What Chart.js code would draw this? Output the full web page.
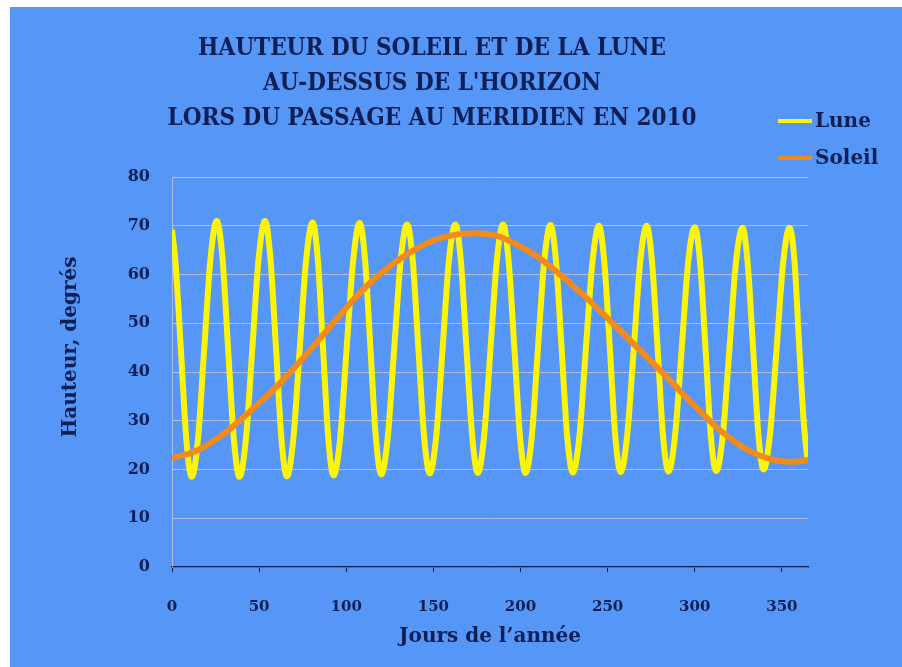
<!DOCTYPE html>
<html lang="fr">
<head>
<meta charset="UTF-8">
<title>Hauteur du Soleil et de la Lune</title>
<script src="https://cdn.jsdelivr.net/npm/chart.js@4.4.0/dist/chart.umd.min.js"></script>
<style>
    html, body { margin: 0; padding: 0; background: #fff; }
    #chart { display: block; }
</style>
</head>
<body>
<canvas id="chart" width="902" height="667"></canvas>
<script>
// Lune : jours / hauteur
const moonDays = [
    0, 1.9, 5.1, 8.2, 11.3,
    14.9, 18.5, 22.1, 25.7,
    29, 32.2, 35.5, 38.7,
    42.4, 46.1, 49.7, 53.4,
    56.5, 59.7, 62.8, 65.9,
    69.6, 73.3, 77, 80.7,
    83.7, 86.7, 89.7, 92.7,
    96.5, 100.2, 104, 107.7,
    110.8, 113.9, 117, 120.1,
    123.8, 127.5, 131.2, 134.9,
    138.2, 141.4, 144.7, 147.9,
    151.6, 155.3, 158.9, 162.6,
    165.8, 169, 172.3, 175.5,
    179.1, 182.8, 186.4, 190,
    193.2, 196.5, 199.7, 202.9,
    206.5, 210, 213.6, 217.2,
    220.4, 223.6, 226.8, 230,
    233.8, 237.5, 241.3, 245,
    248.1, 251.3, 254.4, 257.5,
    261.2, 265, 268.7, 272.4,
    275.5, 278.7, 281.8, 284.9,
    288.7, 292.5, 296.2, 300,
    303.1, 306.2, 309.2, 312.3,
    316.1, 319.9, 323.6, 327.4,
    330.4, 333.5, 336.5, 339.5,
    343.2, 347, 350.7, 354.4,
    357.2, 360, 362.5, 364.5
];
const moonAlt = [
    69.2, 63, 44.7, 26.3, 18.5,
    26.2, 44.8, 63.3, 71,
    63.3, 44.8, 26.2, 18.5,
    26.2, 44.8, 63.3, 71,
    63.3, 44.8, 26.3, 18.6,
    26.2, 44.7, 63.1, 70.7,
    63.1, 44.8, 26.4, 18.8,
    26.4, 44.7, 63, 70.6,
    63, 44.8, 26.6, 19,
    26.5, 44.7, 62.8, 70.3,
    62.8, 44.8, 26.7, 19.2,
    26.7, 44.8, 62.8, 70.3,
    62.8, 44.8, 26.8, 19.3,
    26.8, 44.8, 62.8, 70.3,
    62.8, 44.8, 26.8, 19.3,
    26.8, 44.8, 62.7, 70.2,
    62.7, 44.8, 26.8, 19.4,
    26.8, 44.7, 62.6, 70,
    62.6, 44.8, 26.9, 19.5,
    26.9, 44.8, 62.6, 70,
    62.6, 44.8, 27, 19.6,
    27, 44.7, 62.4, 69.7,
    62.4, 44.7, 27, 19.7,
    27, 44.7, 62.3, 69.6,
    62.3, 44.8, 27.3, 20,
    27.3, 44.8, 62.3, 69.6,
    63, 45, 30, 22.5
];
// Soleil : jours / hauteur
const sunDays = [0, 15, 30, 45, 60, 75, 90, 105, 120, 135, 150, 165, 175, 185, 195, 210, 225, 240, 255, 270, 285, 300, 315, 330, 345, 355, 365];
const sunAlt = [22.3, 24, 27.4, 32, 37, 42.8, 49, 55.2, 60.3, 64.2, 67, 68.3, 68.5, 68.1, 66.7, 63.6, 59.3, 54.5, 49.3, 44, 38.6, 33, 27.9, 24.1, 22, 21.6, 21.9];

const xTicks = [0, 50, 100, 150, 200, 250, 300, 350];
const yTicks = [0, 10, 20, 30, 40, 50, 60, 70, 80];
const titleLines = ['HAUTEUR DU SOLEIL ET DE LA LUNE', "AU-DESSUS DE L'HORIZON", 'LORS DU PASSAGE AU MERIDIEN EN 2010'];
const xTitle = 'Jours de l’année';
const yTitle = 'Hauteur, degrés';

const navy = '#0e1f55';
const gridColor = 'rgba(240,215,200,0.6)';
const serif = "'DejaVu Serif', 'Liberation Serif', serif";

// fond bleu
const background = {
    id: 'background',
    beforeDraw(chart) {
        const { ctx, width, height } = chart;
        ctx.save();
        ctx.fillStyle = '#fff';
        ctx.fillRect(0, 0, width, height);
        ctx.fillStyle = '#5596f6';
        ctx.fillRect(10, 7, width - 10, height - 7);
        ctx.restore();
    }
};

// légende à droite + titre vertical
const extras = {
    id: 'extras',
    afterDraw(chart) {
        const ctx = chart.ctx;
        ctx.save();
        ctx.fillStyle = navy;
        ctx.font = 'bold 20px ' + serif;
        ctx.textBaseline = 'middle';
        chart.data.datasets.forEach((ds, i) => {
            const y = 121 + i * 37;
            ctx.strokeStyle = ds.borderColor;
            ctx.lineWidth = 4;
            ctx.beginPath();
            ctx.moveTo(778, y);
            ctx.lineTo(812, y);
            ctx.stroke();
            ctx.textAlign = 'left';
            ctx.fillText(ds.label, 815, y + 1);
        });
        ctx.translate(71, 347);
        ctx.rotate(-Math.PI / 2);
        ctx.textAlign = 'center';
        ctx.fillText(yTitle, 0, 0);
        ctx.restore();
    }
};

new Chart(document.getElementById('chart'), {
    type: 'line',
    data: {
        datasets: [{
            label: 'Lune',
            data: moonDays.map((d, i) => ({ x: d, y: moonAlt[i] })),
            borderColor: '#fcf40a',
            borderWidth: 6,
            pointRadius: 0,
            cubicInterpolationMode: 'monotone',
            order: 1
        }, {
            label: 'Soleil',
            data: sunDays.map((d, i) => ({ x: d, y: sunAlt[i] })),
            borderColor: '#f28a1c',
            borderWidth: 6,
            pointRadius: 0,
            cubicInterpolationMode: 'monotone',
            order: 0
        }]
    },
    options: {
        responsive: false,
        animation: false,
        devicePixelRatio: 1,
        layout: { padding: { left: 56, right: 94, top: 0, bottom: 0 } },
        plugins: {
            legend: { display: false },
            tooltip: { enabled: false },
            title: {
                display: true,
                text: titleLines,
                color: navy,
                // titre étroit et gras
                font: { family: serif, size: 24, weight: 'bold condensed', lineHeight: 1.46 },
                padding: { top: 31, bottom: 41 }
            }
        },
        scales: {
            x: {
                type: 'linear',
                min: 0,
                max: 365,
                afterBuildTicks(scale) { scale.ticks = xTicks.map(v => ({ value: v })); },
                afterFit(scale) { scale.height = 100; },
                grid: { display: true, drawOnChartArea: false, drawTicks: true, tickLength: 5, color: navy, lineWidth: 1 },
                border: { display: true, color: navy, width: 1.5 },
                ticks: { padding: 26, color: navy, font: { family: serif, size: 15, weight: 'bold' } },
                title: {
                    display: true,
                    text: xTitle,
                    color: navy,
                    font: { family: serif, size: 20, weight: 'bold' },
                    padding: { top: 0, bottom: 18 }
                }
            },
            y: {
                min: 0,
                max: 80,
                afterBuildTicks(scale) { scale.ticks = yTicks.map(v => ({ value: v })); },
                afterFit(scale) { scale.width = 116; },
                grid: { color: gridColor, lineWidth: 1, drawTicks: false },
                border: { display: true, color: gridColor, width: 1 },
                ticks: { padding: 22, color: navy, font: { family: serif, size: 16, weight: 'bold' } }
            }
        }
    },
    plugins: [background, extras]
});
</script>
</body>
</html>
